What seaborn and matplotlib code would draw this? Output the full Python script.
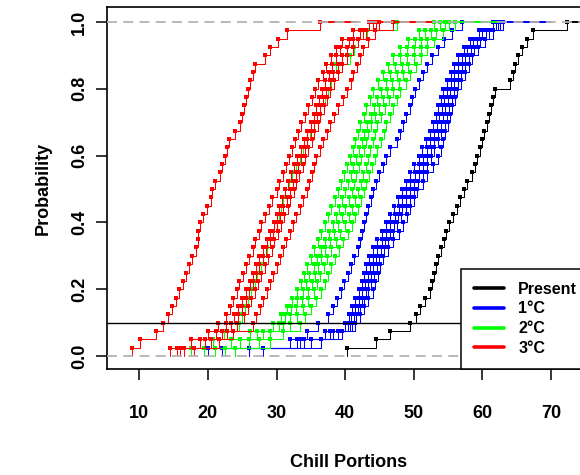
import pandas as pd
import matplotlib
matplotlib.use('Agg')
import matplotlib.pyplot as plt
from matplotlib.lines import Line2D
import seaborn as sns


##################################################################
# DATA (chill portions per simulated year)
##################################################################

present = [40.2, 44.5, 46.5, 49.4, 50.3, 50.9, 51.6, 52.3, 52.6, 53.0,
           53.3, 53.6, 54.0, 54.4, 54.7, 55.2, 55.7, 56.3, 56.8, 57.3,
           57.7, 58.5, 58.9, 59.2, 59.6, 59.9, 60.2, 60.6, 60.9, 61.3,
           61.6, 61.8, 64.0, 64.4, 64.8, 65.2, 65.8, 66.5, 67.4, 72.3]

# +1 degree runs
warm1_runs = [
    [26.0, 33.4, 34.5, 36.0, 37.5, 38.3, 38.8, 39.4, 39.9, 40.4,
     40.9, 41.3, 41.8, 42.2, 42.5, 42.8, 43.1, 43.4, 43.7, 44.1,
     44.5, 45.0, 45.5, 46.0, 46.5, 47.5, 48.0, 48.5, 48.9, 49.4,
     49.8, 50.2, 50.8, 51.3, 51.9, 52.6, 53.5, 54.4, 55.5, 57.0],
    [20.0, 32.0, 37.0, 40.0, 40.5, 41.0, 41.5, 42.0, 42.4, 42.7,
     43.1, 43.5, 44.1, 44.7, 45.4, 46.0, 46.6, 47.1, 47.7, 48.3,
     48.9, 49.5, 50.1, 50.7, 51.2, 51.8, 52.3, 52.8, 53.2, 53.5,
     53.9, 54.2, 54.8, 55.4, 55.9, 56.5, 57.3, 58.2, 59.5, 61.5],
    [22.0, 33.0, 37.8, 40.4, 40.9, 41.4, 42.0, 42.5, 42.9, 43.3,
     43.6, 44.0, 44.7, 45.3, 46.0, 46.6, 47.2, 47.8, 48.3, 48.9,
     49.5, 50.2, 50.8, 51.4, 51.9, 52.4, 52.9, 53.4, 53.7, 54.1,
     54.4, 54.8, 55.4, 55.9, 56.5, 57.0, 57.8, 58.7, 60.0, 62.0],
    [24.0, 34.0, 38.3, 40.7, 41.3, 41.9, 42.4, 43.0, 43.4, 43.8,
     44.1, 44.5, 45.2, 45.8, 46.5, 47.1, 47.7, 48.3, 48.9, 49.5,
     50.1, 50.8, 51.4, 52.0, 52.5, 53.0, 53.5, 54.0, 54.3, 54.6,
     55.0, 55.3, 55.9, 56.4, 57.0, 57.5, 58.3, 59.2, 60.5, 62.3],
    [26.0, 35.0, 38.9, 41.0, 41.6, 42.2, 42.8, 43.4, 43.8, 44.2,
     44.6, 45.0, 45.7, 46.3, 47.0, 47.6, 48.2, 48.8, 49.4, 50.0,
     50.6, 51.3, 51.9, 52.5, 53.0, 53.5, 54.0, 54.5, 54.8, 55.2,
     55.5, 55.8, 56.4, 56.9, 57.5, 58.0, 58.8, 59.7, 61.0, 62.6],
    [28.0, 36.5, 39.5, 41.5, 42.1, 42.8, 43.4, 44.0, 44.4, 44.8,
     45.1, 45.5, 46.3, 47.0, 47.8, 48.5, 49.0, 49.5, 50.0, 50.5,
     51.3, 52.0, 52.8, 53.5, 53.9, 54.3, 54.6, 55.0, 55.3, 55.6,
     56.0, 56.3, 56.9, 57.4, 58.0, 58.5, 59.4, 60.4, 61.6, 63.0],
]

# +2 degree runs
warm2_runs = [
    [17.6, 20.8, 22.4, 24.5, 25.0, 25.4, 25.9, 26.3, 26.8, 27.2,
     27.7, 28.1, 28.6, 29.0, 29.5, 30.0, 30.3, 30.6, 30.9, 31.2,
     31.8, 32.3, 32.9, 33.4, 33.9, 34.4, 34.9, 35.4, 35.9, 36.4,
     37.0, 37.5, 37.9, 38.2, 38.6, 40.7, 41.3, 41.9, 43.2, 47.5],
    [18.0, 23.4, 26.2, 29.5, 30.6, 31.5, 32.2, 33.0, 33.5, 34.0,
     34.5, 35.0, 35.5, 36.0, 36.5, 37.0, 37.5, 38.0, 38.5, 39.0,
     39.4, 39.8, 40.3, 40.7, 41.1, 41.5, 41.8, 42.2, 42.7, 43.1,
     43.6, 44.0, 44.8, 45.5, 46.3, 47.0, 48.0, 49.2, 50.8, 53.0],
    [19.5, 24.7, 27.1, 30.3, 31.3, 32.1, 33.0, 33.8, 34.3, 34.8,
     35.4, 35.9, 36.5, 37.1, 37.6, 38.2, 38.6, 39.1, 39.5, 40.0,
     40.4, 40.8, 41.2, 41.6, 42.0, 42.4, 42.8, 43.2, 43.7, 44.2,
     44.7, 45.2, 45.9, 46.6, 47.3, 48.0, 49.0, 50.2, 51.7, 53.8],
    [21.0, 26.0, 28.0, 31.0, 32.0, 32.9, 33.7, 34.6, 35.1, 35.6,
     36.0, 36.5, 37.1, 37.8, 38.4, 39.0, 39.5, 40.0, 40.5, 41.0,
     41.3, 41.6, 42.0, 42.3, 42.7, 43.1, 43.4, 43.8, 44.4, 44.9,
     45.5, 46.1, 46.8, 47.5, 48.3, 49.0, 50.0, 51.1, 52.5, 54.5],
    [22.5, 27.5, 29.0, 32.0, 33.0, 33.8, 34.6, 35.4, 35.9, 36.4,
     36.9, 37.4, 38.0, 38.7, 39.3, 40.0, 40.5, 41.0, 41.4, 41.9,
     42.3, 42.6, 43.0, 43.3, 43.6, 44.0, 44.3, 44.6, 45.2, 45.8,
     46.4, 47.0, 47.8, 48.5, 49.2, 50.0, 51.0, 52.0, 53.2, 55.2],
    [24.0, 29.0, 31.0, 33.4, 34.2, 35.0, 35.7, 36.5, 37.0, 37.5,
     38.0, 38.5, 39.1, 39.7, 40.4, 41.0, 41.4, 41.8, 42.3, 42.7,
     43.1, 43.5, 43.9, 44.3, 44.7, 45.2, 45.6, 46.0, 46.5, 47.0,
     47.5, 48.0, 48.8, 49.5, 50.3, 51.0, 52.0, 53.0, 54.2, 56.0],
]

# +3 degree runs
warm3_runs = [
    [9.0, 10.1, 12.5, 13.5, 14.2, 14.8, 15.3, 15.8, 16.3, 16.8,
     17.3, 17.7, 18.2, 18.5, 18.6, 18.8, 19.3, 19.9, 20.4, 20.6,
     21.0, 21.8, 22.1, 22.5, 22.8, 23.1, 23.9, 24.7, 25.0, 25.3,
     25.6, 25.9, 26.1, 26.5, 26.9, 28.3, 29.1, 30.2, 31.5, 36.3],
    [14.5, 17.5, 20.0, 21.5, 22.6, 23.2, 23.7, 24.2, 24.6, 25.1,
     25.6, 26.0, 26.5, 26.9, 27.4, 27.8, 28.3, 28.9, 29.4, 30.0,
     30.4, 30.9, 31.4, 31.8, 32.2, 32.7, 33.2, 33.6, 34.1, 34.6,
     35.1, 35.6, 36.1, 36.7, 37.2, 37.9, 38.6, 39.6, 41.2, 43.5],
    [15.5, 18.8, 21.2, 22.6, 23.8, 24.4, 25.0, 25.6, 26.1, 26.5,
     27.0, 27.5, 28.1, 28.6, 29.1, 29.6, 30.0, 30.4, 30.8, 31.2,
     31.7, 32.1, 32.6, 33.0, 33.5, 34.0, 34.5, 35.0, 35.4, 35.8,
     36.2, 36.6, 37.1, 37.6, 38.1, 38.7, 39.3, 40.6, 42.2, 44.0],
    [16.0, 19.6, 22.0, 23.3, 24.4, 24.9, 25.5, 26.0, 26.5, 27.0,
     27.5, 28.0, 28.5, 29.0, 29.5, 30.0, 30.5, 31.0, 31.5, 32.0,
     32.4, 32.8, 33.2, 33.6, 34.1, 34.5, 35.0, 35.4, 35.9, 36.3,
     36.8, 37.2, 37.8, 38.3, 38.9, 39.5, 40.2, 41.2, 42.6, 44.5],
    [16.5, 20.5, 22.8, 24.3, 25.3, 25.8, 26.3, 26.8, 27.3, 27.8,
     28.3, 28.8, 29.3, 29.7, 30.2, 30.6, 31.1, 31.6, 32.0, 32.5,
     32.9, 33.3, 33.8, 34.2, 34.6, 35.1, 35.5, 36.0, 36.4, 36.9,
     37.3, 37.8, 38.4, 39.0, 39.5, 40.3, 41.1, 41.8, 43.0, 45.0],
    [18.0, 21.6, 23.7, 26.6, 27.0, 27.6, 28.1, 28.6, 29.1, 29.5,
     30.0, 30.5, 31.0, 31.4, 31.9, 32.4, 32.9, 33.4, 33.9, 34.4,
     34.8, 35.1, 35.4, 35.8, 36.3, 36.8, 37.3, 37.8, 38.4, 39.0,
     39.7, 40.3, 40.8, 41.2, 41.7, 42.1, 42.6, 43.4, 44.4, 47.0],
]

scenarios = ['Present', '1°C', '2°C', '3°C']
colours = ['black', '#0000ff', '#00ff00', '#ff0000']

x_ticks = [10, 20, 30, 40, 50, 60, 70]
y_ticks = [0.0, 0.2, 0.4, 0.6, 0.8, 1.0]


# long table: one row per year and run
rows = []
for scen, runs in zip(scenarios, [[present], warm1_runs, warm2_runs, warm3_runs]):
    for i, run in enumerate(runs):
        for v in run:
            rows.append({'scenario': scen, 'run': i, 'chill': v})
df = pd.DataFrame(rows)


##################################################################
# PLOT
##################################################################

sns.set_style('ticks')
plt.rcParams['font.family'] = ['Liberation Sans', 'DejaVu Sans']
plt.rcParams['font.weight'] = 'bold'
for key in ['text.color', 'axes.labelcolor', 'xtick.color', 'ytick.color']:
    plt.rcParams[key] = 'black'

fig = plt.figure(figsize=(5.8, 4.75), dpi=100)
ax = fig.add_axes([107.3 / 580, 1 - 368.7 / 475, (590 - 107.3) / 580, (368.7 - 7.3) / 475])

for scen, col in zip(scenarios, colours):
    sub = df[df['scenario'] == scen]
    for run_id, grp in sub.groupby('run'):
        sns.ecdfplot(data=grp, x='chill', ax=ax, color=col, linewidth=0.75,
                     marker='s', markersize=2.2, markeredgewidth=0)
        # short flat tail past the largest value, like R's plot.ecdf
        lo, hi = grp['chill'].min(), grp['chill'].max()
        ax.hlines(1, hi, hi + 0.2 * (hi - lo), color=col, linewidth=1.4)

# reference lines
ax.axhline(0, color='#b3b3b3', linewidth=1.3, linestyle=(0, (5.5, 3.5)), zorder=5)
ax.axhline(1, color='#b3b3b3', linewidth=1.3, linestyle=(0, (5.5, 3.5)), zorder=5)
ax.axhline(0.1, color='black', linewidth=1.0, zorder=5)

ax.set_xlim(5.34, 75.68)
ax.set_ylim(-0.038, 1.044)
ax.set_xticks(x_ticks)
ax.set_xticklabels([str(t) for t in x_ticks], fontsize=13, fontweight='bold')
ax.set_yticks(y_ticks)
ax.set_yticklabels(['%.1f' % t for t in y_ticks], fontsize=13, fontweight='bold',
                   rotation=90, va='center')
ax.tick_params(axis='both', direction='out', length=8, width=1.1, color='black',
               labelcolor='black')
ax.tick_params(axis='x', pad=18)
ax.tick_params(axis='y', pad=6)

ax.set_xlabel('Chill Portions', fontsize=13, fontweight='bold', labelpad=23)
ax.set_ylabel('Probability', fontsize=13, fontweight='bold', labelpad=14)

for side in ['left', 'bottom', 'top']:
    ax.spines[side].set_color('black')
    ax.spines[side].set_linewidth(1.2)
ax.spines['right'].set_visible(False)

handles = [Line2D([0], [0], color=c, linewidth=2.6) for c in colours]
leg = ax.legend(handles, scenarios, loc='lower right', bbox_to_anchor=(1, 0),
                borderaxespad=0, fancybox=False, framealpha=1, edgecolor='black',
                prop={'size': 11.5, 'weight': 'bold'}, handlelength=1.9,
                handletextpad=0.9, borderpad=0.8, labelspacing=0.3)
leg.get_frame().set_linewidth(1.1)
leg.set_zorder(10)

fig.savefig('out.png', dpi=100)
